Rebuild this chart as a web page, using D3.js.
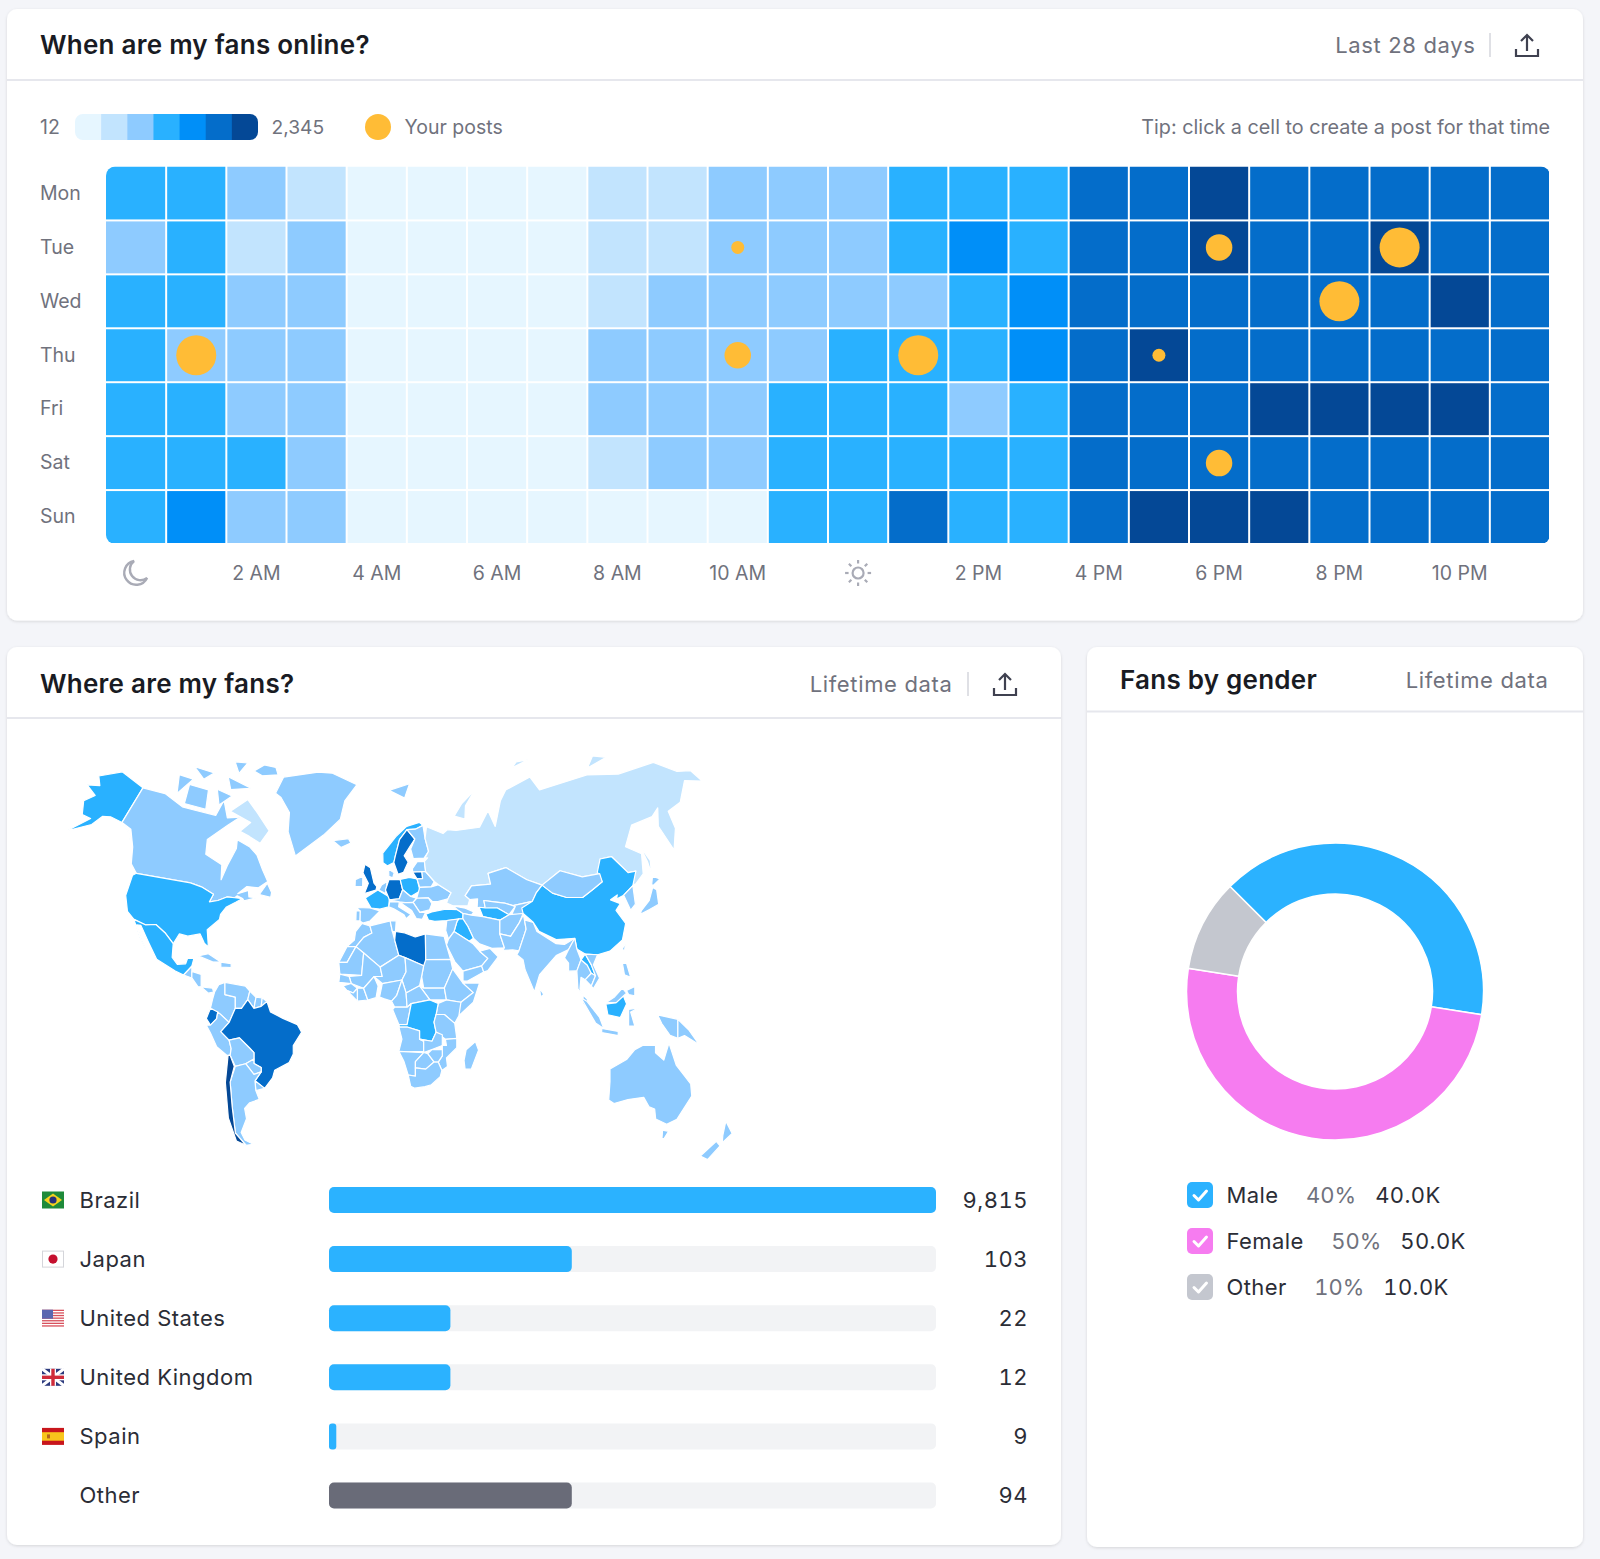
<!DOCTYPE html>
<html><head><meta charset="utf-8">
<script src="https://cdn.jsdelivr.net/npm/d3@7/dist/d3.min.js"></script>
<style>
html,body{margin:0;padding:0;background:#f4f5f9;}
svg{display:block;}
text{font-family:Inter,"Noto Sans",sans-serif;}
.axis text{font-family:Inter,"Noto Sans",sans-serif;}
.num{font-feature-settings:"tnum";}
</style></head><body>
<svg id="c" width="1600" height="1559"></svg>
<script>
// ---------- heatmap data ----------
const days=["Mon","Tue","Wed","Thu","Fri","Sat","Sun"];
const hours=d3.range(24);
const hourTicks=[2,4,6,8,10,14,16,18,20,22];
const hourLabels=["2 AM","4 AM","6 AM","8 AM","10 AM","2 PM","4 PM","6 PM","8 PM","10 PM"];
const ramp=["#e6f6ff","#c2e4fe","#8ecbff","#29b1ff","#008ff8","#046dca","#044896"];
const monLevels=[3,3,2,1,0,0,0,0,1,1,2,2,2,3,3,3,5,5,6,5,5,5,5,5];
const tueLevels=[2,3,1,2,0,0,0,0,1,1,2,2,2,3,4,3,5,5,6,5,5,6,5,5];
const wedLevels=[3,3,2,2,0,0,0,0,1,2,2,2,2,2,3,4,5,5,5,5,5,5,6,5];
const thuLevels=[3,2,2,2,0,0,0,0,2,2,2,2,3,3,3,4,5,6,5,5,5,5,5,5];
const friLevels=[3,3,2,2,0,0,0,0,2,2,2,3,3,3,2,3,5,5,5,6,6,6,6,5];
const satLevels=[3,3,3,2,0,0,0,0,1,2,2,3,3,3,3,3,5,5,5,5,5,5,5,5];
const sunLevels=[3,4,2,2,0,0,0,0,0,0,0,3,3,5,3,3,5,6,6,6,5,5,5,5];
const heatLevels=[monLevels,tueLevels,wedLevels,thuLevels,friLevels,satLevels,sunLevels];
const postDays =["Tue","Tue","Tue","Wed","Thu","Thu","Thu","Thu","Sat"];
const postHours=[10,18,21,20,1,10,13,17,18];
const postSizes=[1,2,3,3,3,2,3,1,2];
// ---------- country bars ----------
const countries=["Brazil","Japan","United States","United Kingdom","Spain","Other"];
const countryValues=["9,815","103","22","12","9","94"];
const countryShare=[100,40,20,20,1.2,40];
// ---------- gender ----------
const genders=["Male","Female","Other"];
const genderShare=[40,50,10];
const genderCounts=["40.0K","50.0K","10.0K"];
const genderColors=["#2bb2ff","#f67cf0","#c4c7cf"];
// ---------- map: [name, ramp level, lon/lat outline] ----------
const mapRegions=[
["Alaska",3,[[-141,69.6],[-156.5,71.3],[-166,68.5],[-162,66.5],[-168,65.6],[-161,64],[-165,62],[-162,59],[-157,58.7],[-165,54.6],[-155,57.5],[-152,60],[-148,60.5],[-141,60]]],
["AlaskaPanhandle",2,[[-141,60],[-135,58],[-131,55],[-133,57],[-137,59]]],
["Canada",2,[[-141,69.6],[-128,70],[-115,68],[-108,68],[-95,68],[-94,72],[-88,68],[-81,69],[-86,66],[-94,61],[-92,57],[-82,55],[-80,51],[-79,55],[-77,60],[-78,62.5],[-70,61],[-65,59],[-60,55],[-56,52],[-60,50],[-66,50],[-70,47],[-65,49],[-64,46],[-60,46],[-66,44],[-67,45],[-70,46],[-71,45],[-75,45],[-79,43],[-83,42],[-82,45.5],[-89,48],[-95,49],[-123,49],[-127,51],[-130,55],[-135,59],[-141,60]]],
["Baffin",1,[[-80,73],[-72,71],[-62,66.5],[-65,62.5],[-72,64],[-78,65],[-74,68],[-88,70]]],
["Victoria",2,[[-117,73],[-105,73],[-102,69],[-115,69]]],
["Banks",2,[[-125,74],[-116,74],[-122,71]]],
["Ellesmere",2,[[-81,78],[-76,80],[-68,80],[-65,78.3],[-75,77.5]]],
["Devon",2,[[-96,76],[-80,75],[-92,74]]],
["Melville",2,[[-118,76],[-105,76],[-110,74.5]]],
["Somerset",2,[[-100,73.5],[-90,73],[-96,71]]],
["Axel",2,[[-95,79],[-87,79.5],[-90,77]]],
["Newfoundland",2,[[-59,47.6],[-53,46.7],[-53,49],[-56,51.5]]],
["USA",3,[[-123,49],[-95,49],[-89,48],[-82,45.5],[-83,42],[-79,43],[-75,45],[-71,45],[-67,45],[-70,43],[-74,40.5],[-76,37],[-76,35],[-81,31.5],[-80,25.5],[-82,27],[-84,30],[-90,29],[-94,29.5],[-97,26],[-101,29.5],[-106,31.7],[-111,31.3],[-117,32.5],[-121,34.5],[-124.3,40],[-124.5,48]]],
["Mexico",3,[[-117,32.5],[-111,31.3],[-106,31.7],[-101,29.5],[-97,26],[-97.5,21],[-95,18.5],[-91,18.8],[-90,21],[-87,21],[-88,18],[-92,14.6],[-96,16],[-105,20],[-109,26],[-113,31],[-115,31],[-112,26],[-110,23],[-113,27]]],
["Guatemala",2,[[-92,14.6],[-88,18],[-88,16],[-88,13.5]]],
["CentralAm",2,[[-88,16],[-83.5,15],[-83.5,10],[-85,10],[-88,13.5]]],
["Panama",2,[[-83.5,10],[-78,9.5],[-77.5,8],[-80,7.5]]],
["Cuba",2,[[-85,22],[-80,23],[-74,20],[-78,20]]],
["Hispaniola",2,[[-74,20],[-69,19.5],[-69,18],[-74,18]]],
["Colombia",2,[[-77,8],[-75,11],[-72,12],[-72,7],[-67,6],[-67,1.5],[-70,-4],[-74,-1],[-79,1.5],[-78,5]]],
["Venezuela",2,[[-72,12],[-62,10.5],[-60,8.5],[-61,5],[-64,1.5],[-67,1.5],[-67,6],[-72,7]]],
["Guyana",2,[[-60,8.5],[-57,6],[-58,1.5],[-61,5]]],
["Suriname",2,[[-57,6],[-54,5.8],[-54.5,2.3],[-58,1.5]]],
["FrGuiana",2,[[-54,5.8],[-51.7,4.3],[-54.5,2.3]]],
["Ecuador",5,[[-79,1.5],[-75.5,0],[-76,-2.5],[-79,-5],[-81,-2.5]]],
["Peru",2,[[-81,-5],[-79,-5],[-76,-2.5],[-75.5,0],[-74,-1],[-70,-4],[-74,-7.5],[-70,-11],[-69,-15],[-69.5,-18],[-71,-18],[-76,-14],[-79,-8]]],
["Brazil",5,[[-70,-4],[-67,1.5],[-64,1.5],[-61,5],[-58,1.5],[-54.5,2.3],[-51.7,4.3],[-50,0],[-44,-2.5],[-37,-5],[-35,-8],[-39,-14],[-39,-18],[-41,-22],[-48,-25.5],[-49,-29],[-53.5,-33.7],[-57.5,-30],[-54.5,-26],[-54.5,-24],[-58,-22],[-58,-17],[-60,-15],[-65,-10],[-70,-11],[-74,-7.5]]],
["Bolivia",2,[[-70,-11],[-65,-10],[-60,-15],[-58,-17],[-58,-20],[-62,-22],[-67,-23],[-69.5,-18],[-69,-15]]],
["Paraguay",2,[[-58,-20],[-58,-22],[-54.5,-24],[-54.5,-26],[-58,-27],[-62,-22]]],
["Uruguay",2,[[-57.5,-30],[-53.5,-33.7],[-58,-34.5]]],
["Argentina",2,[[-67,-23],[-62,-22],[-58,-27],[-54.5,-26],[-57.5,-30],[-58,-34.5],[-57,-38],[-62,-39],[-65,-41],[-65,-45],[-69,-50],[-68.5,-53],[-65,-55],[-69,-55],[-72,-50],[-71,-40],[-69.5,-30]]],
["Chile",6,[[-69.5,-18],[-67.5,-23],[-69.5,-30],[-71,-40],[-72,-50],[-69,-55],[-73,-53],[-74,-44],[-71.8,-30],[-70.5,-18]]],
["Greenland",2,[[-44,60],[-51,67],[-53,72],[-60,74.4],[-64,75],[-61,78],[-39,80.5],[-29,80.6],[-11.5,78],[-19,75],[-21,71.7],[-30,67]]],
["Iceland",2,[[-24,65.5],[-15,66.3],[-13.5,65],[-19,63.5]]],
["UK",5,[[-5,58.5],[-2,57.5],[0,53],[1.5,52],[1,51],[-5,50],[-3,53],[-6,56]]],
["Ireland",2,[[-10,54],[-6,55],[-6,52],[-10,52]]],
["France",3,[[-4.5,48.5],[2,51],[8,49],[7.5,44],[3,43],[-1.5,43.5]]],
["Spain",2,[[-9,43.7],[-2,43.5],[3,42],[0,39],[-2,37],[-5.5,36],[-7,37],[-7,42]]],
["Portugal",2,[[-9,42],[-7,42],[-7,37],[-9,37]]],
["Benelux",2,[[2.5,51],[4,52.5],[7,53.5],[6,50]]],
["Germany",5,[[6,51],[8,54],[14,54],[15,51],[13,48],[8,47.5]]],
["Italy",2,[[7.5,44],[8,46.5],[13,46.5],[12.5,44],[18.5,40],[16,38],[15,40],[10,43]]],
["Poland",3,[[14,54],[19,54.5],[23,54],[24,50.5],[19,49],[15,51]]],
["Denmark",2,[[8,57],[11,56],[10,54.5],[8,55]]],
["Norway",3,[[5,59],[5,62],[13,67],[20,70],[28,71],[30,70],[25,69],[20,69],[15,66],[12,61],[11,59],[7.5,58]]],
["Sweden",5,[[11,59],[12,61],[15,66],[20,69],[24,66],[21,64],[17,61],[19,59],[16,56],[13,55.5]]],
["Finland",2,[[20,69],[25,69],[30,70],[30,66],[31,62],[28,60],[22,60],[21,63],[24,66]]],
["Baltics",2,[[21,57],[24,59],[28,59],[28,56],[21,56]]],
["Lithuania",5,[[21,56],[26,56],[26,54],[23,54]]],
["Belarus",2,[[23,54],[26,54],[26,56],[28,56],[32,53],[30,51.5],[24,51.5]]],
["Ukraine",2,[[24,51.5],[30,51.5],[34,52],[40,49.5],[38,47],[33,46],[30,46],[28,48],[22,48]]],
["CentralEU",2,[[13,48],[15,51],[19,49],[22,48],[20,46],[16,46],[13,46.5],[8,47.5]]],
["Romania",2,[[22,48],[28,48],[29.5,45],[28,42],[23,41],[20,46]]],
["Balkans",2,[[13.5,46],[20,46],[23,41],[26,41],[24,37.5],[21,38],[19,42]]],
["Turkey",3,[[26,40],[29,41],[36,42],[42,41.5],[44.5,39.5],[44,37],[36,36.5],[30,36.3],[27,37]]],
["Caucasus",2,[[40,43.5],[46,42],[50,40],[48.5,38.5],[44.5,39.5],[42,41.5]]],
["Russia",1,[[28,59],[30,60],[28.5,60],[31,62],[30,66],[32,69.5],[41,67],[44,68],[49,67.5],[63,67.5],[71,71.5],[72,67],[80,72.8],[85,74.4],[102,75.5],[105,73],[135,73],[152,71.4],[173,71],[180,67],[186,66],[188,63],[180,64.5],[172,60.5],[164,59.5],[163,55.5],[157,51],[155.5,57],[160,61],[155,59.5],[143,59],[135,54.5],[141,52],[138,46.5],[132,43],[131,45],[135,48],[131,48],[126,53],[120,53],[117,49.5],[108,49.5],[98,52],[87,49],[80,51],[71,55],[61,54],[61,51],[51,51],[47,48],[49,46],[47.5,43],[40,43.5],[37,45],[38,47],[40,49.5],[34,52],[32,53],[28,56]]],
["NovayaZemlya",1,[[50,71.5],[56,73.5],[66,75.5],[58,73],[56,70.5]]],
["Severnaya",1,[[93,77.8],[105,78.5],[97,78.8]]],
["NewSiberian",1,[[137,74],[150,74.5],[143,75.5]]],
["FranzJosef",1,[[47,78],[60,79],[52,78.4]]],
["Svalbard",2,[[10,77],[24,78],[20,75.5]]],
["Sakhalin",1,[[142,54],[143.5,50],[142,46],[142,50]]],
["Kazakhstan",2,[[47,48],[51,51],[61,51],[61,54],[71,55],[80,51],[87,49],[83,46],[80,42.5],[70,41.5],[66,43],[61,44],[56,45],[56,41.5],[52,42],[53,46],[49,46]]],
["Uzbekistan",2,[[56,41.5],[56,45],[61,44],[66,43],[71,41],[67,37.5],[62,41]]],
["Kyrgyz",2,[[70,41.5],[80,42.5],[74,37.5],[68,37],[71,41]]],
["Turkmenistan",3,[[53,42],[56,41.5],[62,41],[67,37.5],[62,35.5],[54,37.5]]],
["Iran",2,[[44.5,39.5],[48.5,38.5],[54,37.5],[62,35.5],[61,31],[63,26],[57,26],[51,28],[48,30],[46,34],[44,37]]],
["Iraq",3,[[44,37],[46,34],[48,30],[46,29],[39,32.5],[41,36],[42,37]]],
["Levant",2,[[36,36.5],[42,37],[41,36],[39,32.5],[36,30],[35,33]]],
["Saudi",2,[[36,30],[39,32.5],[46,29],[48,28],[51,25],[55,22],[52,19],[43,17],[39,21],[35,28]]],
["Yemen",2,[[43,17],[52,19],[53,16.5],[45,12.8],[43,13]]],
["Oman",2,[[51,25],[56,26],[60,22.5],[55,17],[53,16.5],[52,19],[55,22]]],
["Afghanistan",2,[[62,35.5],[67,37.5],[74,37.5],[71,34],[66,30],[61,31]]],
["Pakistan",2,[[61,31],[66,30],[71,34],[74,37],[74,32],[70,24.5],[67,25],[62,25],[63,26]]],
["India",2,[[74,35],[78,34],[79,31],[88,26.5],[92,26],[97,28],[94,24],[91,23],[88,22],[80,15],[77.5,8],[73,17],[72,21],[69,23],[70,24.5],[74,32]]],
["China",3,[[80,42.5],[83,46],[87,49],[91,45],[97,42.5],[105,41.5],[111,44],[117,46.5],[116,50],[120,53],[126,53],[131,48],[135,48],[131,43],[125,40],[121,39],[122,40.5],[118,39],[122,37],[119,35],[122,31],[120,26],[114,22.5],[108,21.5],[102,22],[98,24],[97,28],[92,28],[88,28],[80,31],[78,34],[74,37.5],[74,40]]],
["Mongolia",2,[[87,49],[98,52],[108,49.5],[117,49.5],[117,46.5],[111,44],[105,41.5],[97,42.5],[91,45]]],
["Korea",2,[[125,40],[131,43],[129,36],[126,34.5]]],
["Honshu",2,[[130,33],[135,34],[140,35],[141.5,40],[140,41],[136,36.5],[131,34]]],
["Hokkaido",2,[[140,42],[142,45],[145,43.5],[141,41.8]]],
["Taiwan",2,[[120,23],[121.5,25],[121,22]]],
["SriLanka",2,[[80,9.5],[82,7],[80.5,6]]],
["Myanmar",2,[[92,21],[94,24],[97,28],[98,24],[100,20],[98,16],[98.5,10],[97.5,16],[94,16],[94,19]]],
["Thailand",2,[[98,16],[100,20],[103,18],[105,15],[102,12.5],[100,13.5],[99.5,9],[101,6.5],[98.5,9]]],
["Laos",3,[[102,22],[100,20],[103,18],[105,15],[107,14],[105,18]]],
["Cambodia",2,[[102,12.5],[105,15],[107,14],[105,10]]],
["Vietnam",2,[[102,22],[108,21.5],[106,18],[109,13],[106,9],[105,10],[107,14],[105,18]]],
["Malaya",2,[[101,6.5],[103,5],[104,1.5],[101,3]]],
["Sumatra",2,[[100,5.5],[103,4],[109,-2],[111,-6],[107,-4]]],
["Java",2,[[110,-6],[118,-7],[118,-8.5],[110,-7.5]]],
["Kalimantan",3,[[112,3],[117,3.5],[120.5,6],[122,3],[119,-2],[113,-1]]],
["Sabah",2,[[112,3.5],[117,3.5],[120.5,6],[122,7],[120,9],[116,5.5]]],
["Sulawesi",2,[[123,1],[128,1.5],[124,0],[126,-5],[123,-5]]],
["Luzon",2,[[120,18],[122,18],[124,13],[121,14]]],
["Mindanao",2,[[122,8],[126,9.5],[126,6],[123,6.5]]],
["PapuaW",2,[[137,-1],[146.8,-2.5],[146.8,-9],[143,-8],[139,-4]]],
["PapuaE",2,[[146.8,-2.5],[152,-6],[157,-11],[150,-8],[146.8,-9]]],
["Australia",2,[[114,-22],[122,-18],[126,-14],[130,-12],[136,-12],[136,-15],[140,-17.5],[142.5,-10.8],[146,-19],[153,-25],[153.5,-29],[150,-37],[146,-39],[140,-38],[138,-35],[135,-34.5],[131,-31.5],[124,-33],[118,-35],[115,-34],[114,-27]]],
["Tasmania",2,[[145,-41],[148,-41],[147,-43.5],[146,-43.5]]],
["NZNorth",2,[[173,-35],[178,-38],[175,-41],[174,-39]]],
["NZSouth",2,[[172,-41],[174.5,-42],[171,-46.5],[167,-46]]],
["Morocco",2,[[-6,35.8],[-2,35],[-1,32.5],[-5,31],[-8.7,27.7],[-13,27.7],[-9.5,30],[-9,33]]],
["WSahara",2,[[-13,27.7],[-8.7,27.7],[-13,21],[-17,21]]],
["Algeria",2,[[-2,35],[8,37],[9,33],[10,30],[12,24],[3,19],[-5,25],[-8.7,27.7],[-5,31],[-1,32.5]]],
["Tunisia",2,[[8,37],[11,37],[10.5,33],[9,33]]],
["Libya",5,[[10,30],[10.5,33],[15,32.5],[20,31],[25,32],[25,20],[24,19.5],[15,23],[12,24]]],
["Egypt",2,[[25,32],[34,31],[35,28],[37,22],[25,22]]],
["Sudan",2,[[25,22],[37,22],[38,18],[36,14],[34,10],[24,10],[23,15],[24,19.5]]],
["SouthSudan",2,[[24,10],[34,10],[35,5],[27,5],[22,11]]],
["Mauritania",2,[[-17,21],[-13,21],[-8.7,27.7],[-5,25],[-6,15.5],[-16.5,16]]],
["Mali",2,[[-5,25],[3,19],[4,15],[0,15],[-5,10],[-11,12],[-12,15],[-6,15.5]]],
["Niger",2,[[3,19],[12,24],[15,23],[15.5,17],[13.5,13.5],[4,12],[0,15],[4,15]]],
["Chad",2,[[15,23],[24,19.5],[23,15],[22,11],[15.5,8],[13.5,13.5],[15.5,17]]],
["Senegal",2,[[-16.5,16],[-12,15],[-11,12],[-17,12.5]]],
["Guinea",2,[[-15,11],[-11,12],[-8,10],[-10,8],[-13,9]]],
["Liberia",2,[[-13,9],[-10,8],[-8,10],[-8,4.5]]],
["IvoryCoast",2,[[-8,10],[-5,10],[-3,5],[-8,4.5]]],
["Ghana",2,[[-5,10],[0,15],[2,11],[1,6],[-3,5]]],
["Nigeria",2,[[2.7,6.3],[4,12],[13.5,13.5],[11,7],[8.5,4.5],[5,5.5]]],
["Cameroon",2,[[8.5,4.5],[11,7],[13.5,13.5],[15.5,8],[16,2],[10,2]]],
["CAR",2,[[15.5,8],[22,11],[27,5],[18,3.5],[16,2]]],
["Ethiopia",2,[[36,14],[38,18],[43,12],[48,8],[42,4],[35,5],[34,10]]],
["Somalia",2,[[43,12],[51,12],[48,4],[41,-1.5],[41,3],[42,4],[48,8]]],
["Kenya",2,[[35,5],[42,4],[41,-1.5],[39,-4.5],[34,-1],[30,-1],[31,3.5]]],
["Gabon",2,[[9,1],[10,2],[16,2],[18,3.5],[16,-5],[12,-5]]],
["DRC",3,[[18,3.5],[27,5],[31,3.5],[30,-1],[29,-4],[30,-8],[28,-12],[22,-11],[22,-7.5],[16,-6],[12.3,-6],[12,-5],[16,-5]]],
["Tanzania",2,[[30,-1],[34,-1],[39,-4.5],[40,-10.5],[34.5,-11],[30,-8],[29,-4]]],
["Angola",2,[[12,-6],[16,-6],[22,-7.5],[22,-11],[24,-12],[24,-17],[12,-17],[13.5,-11]]],
["Zambia",2,[[22,-11],[28,-12],[30,-8],[33,-9],[33,-14],[28,-16],[24,-17.5],[24,-12]]],
["Mozambique",2,[[34.5,-11],[40,-10.5],[40,-15],[35,-20],[35.5,-24],[32.8,-26],[31,-22],[33,-19],[33,-14],[35,-14]]],
["Namibia",2,[[12,-17],[24,-17.5],[20,-22],[20,-29],[16.5,-28.5],[14.5,-22]]],
["Botswana",2,[[20,-22],[24,-17.5],[26,-18],[29,-22],[25,-25.5],[20,-25]]],
["Zimbabwe",2,[[26,-18],[28,-16],[33,-16],[33,-19],[31,-22],[29,-22]]],
["SouthAfrica",2,[[16.5,-28.5],[20,-29],[20,-25],[25,-25.5],[29,-22],[31,-22],[32.8,-26],[32,-29],[28,-33],[25,-34],[20,-34.8],[18,-34]]],
["Madagascar",2,[[49,-12],[50.5,-16],[47,-25],[44,-25],[43.5,-21],[44.5,-16]]]
];

const svg=d3.select("#c");
const INK="#191b23",TEXT="#2b2d36",GREY="#70727d",LINE="#e6e7ed";
const defs=svg.append("defs");
const sh=defs.append("filter").attr("id","sh").attr("x","-2%").attr("y","-2%").attr("width","104%").attr("height","104%");
sh.append("feDropShadow").attr("dx",0).attr("dy",1).attr("stdDeviation",1.5).attr("flood-color","#000").attr("flood-opacity",.13);

function exportIcon(g,cx,cy){
  const i=g.append("g").attr("transform",`translate(${cx},${cy})`).attr("fill","none").attr("stroke","#3f4150").attr("stroke-width",2.2);
  i.append("path").attr("d","M-11,4V11H11V4");
  i.append("path").attr("d","M0,6V-10M-6,-4L0,-10L6,-4");
}
function card(x,y,w,h,lineY,title,titleY,sub,subRight,withIcon,iconX,divX){
  svg.append("rect").attr("x",x).attr("y",y).attr("width",w).attr("height",h).attr("rx",10).attr("fill","#fff").attr("filter","url(#sh)");
  svg.append("line").attr("x1",x).attr("x2",x+w).attr("y1",lineY).attr("y2",lineY).attr("stroke",LINE).attr("stroke-width",2);
  svg.append("text").attr("x",x+33).attr("y",titleY).attr("dy","0.36em").attr("font-size",26).attr("letter-spacing",.25).attr("font-weight",600).attr("fill",INK).text(title);
  svg.append("text").attr("x",subRight).attr("y",titleY).attr("dy","0.36em").attr("text-anchor","end").attr("font-size",22).attr("letter-spacing",.65).attr("fill",GREY).text(sub);
  if(withIcon){
    svg.append("line").attr("x1",divX).attr("x2",divX).attr("y1",titleY-12).attr("y2",titleY+12).attr("stroke","#d5d6dc").attr("stroke-width",1.5);
    exportIcon(svg,iconX,titleY);
  }
}
card(7,9,1576,611.5,80,"When are my fans online?",45,"Last 28 days",1475.5,true,1527,1490);
card(7,647,1054,898,718,"Where are my fans?",684,"Lifetime data",952.5,true,1005,968);
card(1087,647,496,900,711.5,"Fans by gender",680,"Lifetime data",1548.5,false);

// ---------- heatmap ----------
const color=d3.scaleOrdinal().domain(d3.range(ramp.length)).range(ramp);
const x=d3.scaleBand().domain(hours).range([106,1550]);
const y=d3.scaleBand().domain(days).range([166.5,544]);
defs.append("clipPath").attr("id","hc").append("rect").attr("x",106).attr("y",166.5).attr("width",1444).attr("height",377.5).attr("rx",9);
const cells=days.flatMap((d,r)=>hours.map(h=>({d,h,v:heatLevels[r][h]})));
svg.append("g").attr("clip-path","url(#hc)").selectAll("rect").data(cells).join("rect")
  .attr("x",c=>x(c.h)+(c.h?1:0)).attr("y",c=>y(c.d)+(c.d==="Mon"?0:1))
  .attr("width",c=>x.bandwidth()-(c.h?2:1)).attr("height",c=>y.bandwidth()-(c.d==="Mon"?1:2))
  .attr("fill",c=>color(c.v));
const rPost=d3.scaleLinear().domain([1,3]).range([6.5,20]);
svg.append("g").selectAll("circle").data(postDays.map((d,i)=>({d,h:postHours[i],s:postSizes[i]}))).join("circle")
  .attr("cx",p=>x(p.h)+x.bandwidth()/2).attr("cy",p=>y(p.d)+y.bandwidth()/2).attr("r",p=>rPost(p.s)).attr("fill","#ffbc36");
const axStyle=(g,fs)=>{g.select(".domain").remove();g.selectAll("line").remove();g.selectAll("text").attr("font-size",fs).attr("fill",GREY);};
svg.append("g").attr("class","axis").attr("transform","translate(0,573)")
  .call(d3.axisBottom(x).tickValues(hourTicks).tickSize(0).tickPadding(0).tickFormat(h=>hourLabels[hourTicks.indexOf(h)]))
  .call(g=>axStyle(g,19.5)).selectAll("text").attr("dy","0.36em").attr("y",0);
svg.append("g").attr("class","axis").attr("transform","translate(40,0)")
  .call(d3.axisLeft(y).tickSize(0))
  .call(g=>axStyle(g,19.5)).selectAll("text").attr("text-anchor","start").attr("x",0);
// moon and sun
const mx=x(0)+x.bandwidth()/2, sx=x(12)+x.bandwidth()/2;
svg.append("path").attr("transform",`translate(${mx},573)`).attr("d","M-2,-12A12,12 0 1,0 11,5A10.5,10.5 0 0,1 -2,-12Z").attr("fill","none").attr("stroke","#a9abb6").attr("stroke-width",2.4);
const sun=svg.append("g").attr("transform",`translate(${sx},573)`).attr("stroke","#a9abb6").attr("stroke-width",2.2).attr("fill","none");
sun.append("circle").attr("r",5.5);
d3.range(8).forEach(i=>{const a=i*Math.PI/4;sun.append("line").attr("x1",9.5*Math.cos(a)).attr("y1",9.5*Math.sin(a)).attr("x2",13*Math.cos(a)).attr("y2",13*Math.sin(a));});
// legend
const lg=svg.append("g");
lg.append("text").attr("x",40).attr("y",127).attr("dy","0.36em").attr("font-size",19.5).attr("fill",GREY).text("12");
defs.append("clipPath").attr("id","lc").append("rect").attr("x",75).attr("y",114).attr("width",183).attr("height",26).attr("rx",8);
const lx=d3.scaleBand().domain(d3.range(7)).range([75,258]);
lg.append("g").attr("clip-path","url(#lc)").selectAll("rect").data(ramp).join("rect")
  .attr("x",(d,i)=>lx(i)).attr("y",114).attr("width",lx.bandwidth()+.5).attr("height",26).attr("fill",d=>d);
lg.append("text").attr("x",271.5).attr("y",127).attr("dy","0.36em").attr("font-size",19.2).attr("fill",GREY).text("2,345");
lg.append("circle").attr("cx",378).attr("cy",127).attr("r",13).attr("fill","#ffbc36");
lg.append("text").attr("x",404.5).attr("y",127).attr("dy","0.36em").attr("font-size",19.5).attr("fill",GREY).text("Your posts");
lg.append("text").attr("x",1550).attr("y",127).attr("dy","0.36em").attr("text-anchor","end").attr("font-size",19.8).attr("fill",GREY).text("Tip: click a cell to create a post for that time");

// ---------- map ----------
const yLat=d3.scaleLinear().domain([-60,-55,-34.5,-10,0,5,28,36,49,58,71,78,84]).range([-140,-125,-75,-25,0,12,66,89,115,146,188,227,250]);
const bend=d3.scaleLinear().domain([0,15,35,50,65,85]).range([0,.0003,.0011,.0016,.002,.0022]);
const shrink=d3.scaleLinear().domain([0,30,50,65,71,84]).range([1,1,.93,.83,.78,.66]);
const mapProjection=d3.geoTransform({point(lon,lat){
  const a=Math.abs(lat);
  this.stream.point(374+lon*2.07*shrink(a),1012-yLat(lat)-Math.sign(lat)*bend(a)*lon*lon);
}});
const geo=d3.geoPath(mapProjection);
svg.append("g").selectAll("path").data(mapRegions).join("path")
  .attr("d",r=>geo({type:"Polygon",coordinates:[[...r[2],r[2][0]]]}))
  .attr("fill",r=>ramp[r[1]]).attr("stroke","#fff").attr("stroke-width",1.2).attr("stroke-linejoin","round");

// ---------- bars ----------
const rowY=d3.scalePoint().domain(countries).range([1200,1495.5]);
const bw=d3.scaleLinear().domain([0,100]).range([0,607]);
const rows=svg.append("g").selectAll("g").data(countries).join("g").attr("transform",c=>`translate(0,${rowY(c)})`);
rows.append("rect").attr("x",329).attr("y",-13).attr("width",bw(100)).attr("height",26).attr("rx",5).attr("fill","#f2f3f5");
rows.append("rect").attr("x",329).attr("y",-13).attr("width",(c,i)=>Math.max(bw(countryShare[i]),7)).attr("height",26).attr("rx",(c,i)=>countryShare[i]<3?3:5).attr("fill",c=>c==="Other"?"#696b78":"#2bb2ff");
rows.append("text").attr("x",79.5).attr("dy","0.36em").attr("font-size",22).attr("letter-spacing",.5).attr("fill",TEXT).text(c=>c);
rows.append("text").attr("class","num").attr("x",1028).attr("dy","0.36em").attr("text-anchor","end").attr("font-size",22).attr("letter-spacing",.5).attr("fill",TEXT).text((c,i)=>countryValues[i]);
// flags
const flag=(c,fn)=>{const g=svg.append("g").attr("transform",`translate(42,${rowY(c)-8.5})`);fn(g);};
const R=(g,a,b,w,h,f)=>g.append("rect").attr("x",a).attr("y",b).attr("width",w).attr("height",h).attr("fill",f);
flag("Brazil",g=>{R(g,0,0,22,17,"#1f8a3a");g.append("path").attr("d","M11,2L20,8.5L11,15L2,8.5Z").attr("fill","#f4d21f");g.append("circle").attr("cx",11).attr("cy",8.5).attr("r",3.6).attr("fill","#26307a");});
flag("Japan",g=>{g.append("rect").attr("x",.5).attr("y",.5).attr("width",21).attr("height",16).attr("fill","#fff").attr("stroke","#d4d5da");g.append("circle").attr("cx",11).attr("cy",8.5).attr("r",4.6).attr("fill","#c5102f");});
flag("United States",g=>{R(g,0,0,22,17,"#fff");d3.range(0,17,2.6).forEach(b=>R(g,0,b,22,1.3,"#d8505c"));R(g,0,0,11,9,"#5a67b0");});
flag("United Kingdom",g=>{R(g,0,0,22,17,"#2c3a7d");g.append("path").attr("d","M0,0L22,17M22,0L0,17").attr("stroke","#fff").attr("stroke-width",3);R(g,8,0,6,17,"#fff");R(g,0,5.5,22,6,"#fff");R(g,9.3,0,3.4,17,"#cf2b3a");R(g,0,6.8,22,3.4,"#cf2b3a");});
flag("Spain",g=>{R(g,0,0,22,17,"#c8161c");R(g,0,4.3,22,8.5,"#f8c51c");R(g,5,6.5,3,4,"#b5651d");});

// ---------- donut ----------
const pie=d3.pie().sort(null).startAngle(-Math.PI/4).endAngle(Math.PI*7/4);
const arc=d3.arc().innerRadius(97.5).outerRadius(148.5);
svg.append("g").attr("transform","translate(1335,991.5)").selectAll("path").data(pie(genderShare)).join("path")
  .attr("d",arc).attr("fill",(d,i)=>genderColors[i]).attr("stroke","#fff").attr("stroke-width",1.5);
const ly=d3.scalePoint().domain(genders).range([1195,1287]);
genders.forEach((g,i)=>{
  const row=svg.append("g").attr("transform",`translate(0,${ly(g)})`);
  row.append("rect").attr("x",1187).attr("y",-13).attr("width",26).attr("height",26).attr("rx",5).attr("fill",genderColors[i]);
  row.append("path").attr("d","M1194,0.5L1198.5,5L1206.5,-4").attr("fill","none").attr("stroke","#fff").attr("stroke-width",3).attr("stroke-linecap","round").attr("stroke-linejoin","round");
  const a=row.append("text").attr("x",1226.5).attr("dy","0.36em").attr("font-size",22).attr("letter-spacing",.4).attr("fill",TEXT).text(g);
  const ax=1226.5+a.node().getComputedTextLength()+27.5;
  const b=row.append("text").attr("class","num").attr("x",ax).attr("dy","0.36em").attr("font-size",22).attr("fill",GREY).text(genderShare[i]+"%");
  const bx=ax+b.node().getComputedTextLength()+19;
  row.append("text").attr("class","num").attr("x",bx).attr("dy","0.36em").attr("font-size",22).attr("letter-spacing",.4).attr("fill",TEXT).text(genderCounts[i]);
});
</script></body></html>
